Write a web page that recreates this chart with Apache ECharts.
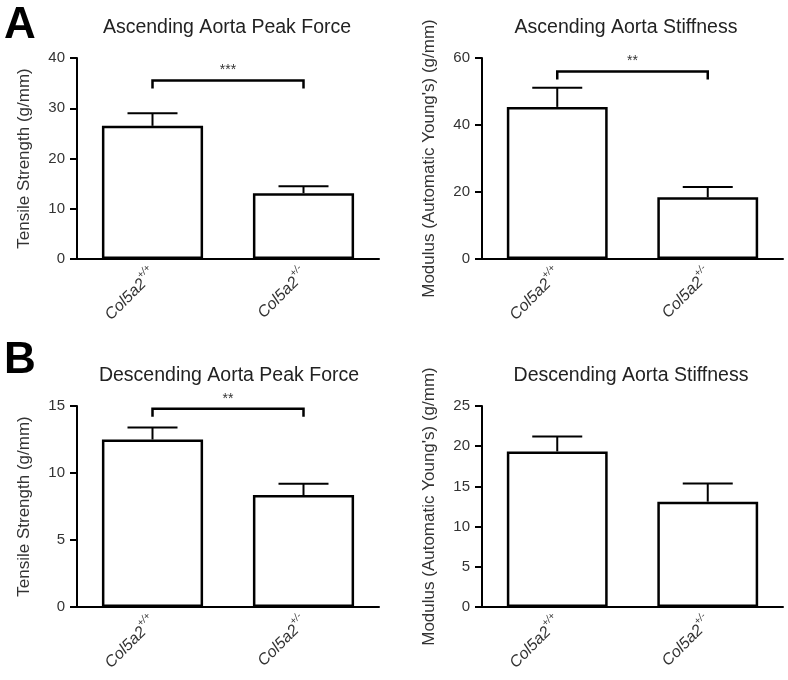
<!DOCTYPE html>
<html>
<head>
<meta charset="utf-8">
<script src="https://cdn.jsdelivr.net/npm/echarts@6/dist/echarts.min.js"></script>
<style>html,body{margin:0;padding:0;background:#fff}#c{width:788px;height:680px}</style>
</head>
<body>
<div id="c"></div>
<script>
// ---- data ----
const geneName = 'Col5a2';
const genotypes = ['+/+', '+/-'];
const panelTitles = ['Ascending Aorta Peak Force', 'Ascending Aorta Stiffness', 'Descending Aorta Peak Force', 'Descending Aorta Stiffness'];
const yNames = ['Tensile Strength (g/mm)', "Modulus (Automatic Young's) (g/mm)", 'Tensile Strength (g/mm)', "Modulus (Automatic Young's) (g/mm)"];
const yMax = [40, 60, 15, 25];
const yStep = [10, 20, 5, 5];

const ascPeakMean = [26.5, 13.1];
const ascPeakSem = [2.5, 1.4];
const ascStiffMean = [45.4, 18.4];
const ascStiffSem = [5.7, 3.1];
const descPeakMean = [12.5, 8.35];
const descPeakSem = [0.9, 0.85];
const descStiffMean = [19.35, 13.1];
const descStiffSem = [1.85, 2.25];

const bracketLevel = [35.5, 56, 14.8, null];
const bracketStars = ['***', '**', '**', ''];

const panelLetters = ['A', 'B'];

// ---- layout ----
const FONT = "'Liberation Sans', Arial, Helvetica, sans-serif";
const grids = [
  {left: 77, top: 58, width: 302, height: 201},
  {left: 482, top: 58, width: 301, height: 201},
  {left: 77, top: 406, width: 302, height: 201},
  {left: 482, top: 406, width: 301, height: 201}
];
const titleX = [222, 621, 224, 626];
const titleY = [13, 13, 361, 361];
const means = [ascPeakMean, ascStiffMean, descPeakMean, descStiffMean];
const sems = [ascPeakSem, ascStiffSem, descPeakSem, descStiffSem];

const xAxes = [], yAxes = [], series = [], titles = [];
grids.forEach((g, i) => {
  xAxes.push({
    type: 'category', gridIndex: i, data: genotypes,
    axisLine: {lineStyle: {color: '#000', width: 2}},
    axisTick: {alignWithLabel: true, length: 7, lineStyle: {color: '#000', width: 2}},
    axisLabel: {
      rotate: 45, margin: 11, interval: 0,
      formatter: v => '{i|' + geneName + '}{s|' + v + '}',
      rich: {
        i: {fontSize: 16, fontStyle: 'italic', color: '#333', fontFamily: FONT, lineHeight: 20, verticalAlign: 'bottom'},
        s: {fontSize: 10, fontStyle: 'italic', color: '#333', fontFamily: FONT, lineHeight: 20, verticalAlign: 'top'}
      }
    }
  });
  yAxes.push({
    type: 'value', gridIndex: i, min: 0, max: yMax[i], interval: yStep[i],
    name: yNames[i], nameLocation: 'middle', nameGap: 44, nameRotate: 90,
    nameTextStyle: {fontSize: 17, color: '#333', fontFamily: FONT},
    axisLine: {show: true, lineStyle: {color: '#000', width: 2}},
    axisTick: {show: true, length: 7, lineStyle: {color: '#000', width: 2}},
    axisLabel: {fontSize: 15, color: '#333', fontFamily: FONT, margin: 12},
    splitLine: {show: false}
  });
  series.push({
    type: 'bar', xAxisIndex: i, yAxisIndex: i, data: means[i], barWidth: '67%',
    itemStyle: {color: '#fff', borderColor: '#000', borderWidth: 2.5},
    silent: true, z: 2
  });
  series.push({
    type: 'custom', xAxisIndex: i, yAxisIndex: i, z: 3, silent: true,
    data: means[i].map((m, k) => [k, m, m + sems[i][k]]),
    renderItem: (params, api) => {
      const x = api.value(0);
      const b = api.coord([x, api.value(1)]);
      const t = api.coord([x, api.value(2)]);
      const st = {stroke: '#000', lineWidth: 2};
      return {type: 'group', children: [
        {type: 'line', shape: {x1: b[0], y1: b[1], x2: t[0], y2: t[1]}, style: st},
        {type: 'line', shape: {x1: t[0] - 25, y1: t[1], x2: t[0] + 25, y2: t[1]}, style: st}
      ]};
    }
  });
  if (bracketLevel[i] !== null) {
    series.push({
      type: 'custom', xAxisIndex: i, yAxisIndex: i, z: 3, silent: true,
      data: [[0, 1, bracketLevel[i]]],
      renderItem: (params, api) => {
        const p0 = api.coord([api.value(0), api.value(2)]);
        const p1 = api.coord([api.value(1), api.value(2)]);
        return {type: 'group', children: [
          {type: 'polyline', shape: {points: [[p0[0], p0[1] + 8], [p0[0], p0[1]], [p1[0], p1[1]], [p1[0], p1[1] + 8]]},
           style: {stroke: '#000', lineWidth: 2.5, fill: null}},
          {type: 'text', x: (p0[0] + p1[0]) / 2, y: p0[1] - 3,
           style: {text: bracketStars[i], fontSize: 14, fill: '#333', fontFamily: FONT, textAlign: 'center', textVerticalAlign: 'bottom'}}
        ]};
      }
    });
  }
  titles.push({
    text: panelTitles[i], left: titleX[i], top: titleY[i],
    textAlign: 'center',
    textStyle: {fontSize: 19.5, fontWeight: 'normal', color: '#222', fontFamily: FONT}
  });
});
titles.push({text: panelLetters[0], left: -1, top: -1, textStyle: {fontSize: 44, fontWeight: 'bold', color: '#000', fontFamily: FONT}});
titles.push({text: panelLetters[1], left: -1, top: 334, textStyle: {fontSize: 44, fontWeight: 'bold', color: '#000', fontFamily: FONT}});

const chart = echarts.init(document.getElementById('c'), null, {renderer: 'canvas'});
chart.setOption({
  animation: false,
  backgroundColor: '#fff',
  title: titles,
  grid: grids,
  xAxis: xAxes,
  yAxis: yAxes,
  series: series
});
</script>
</body>
</html>
